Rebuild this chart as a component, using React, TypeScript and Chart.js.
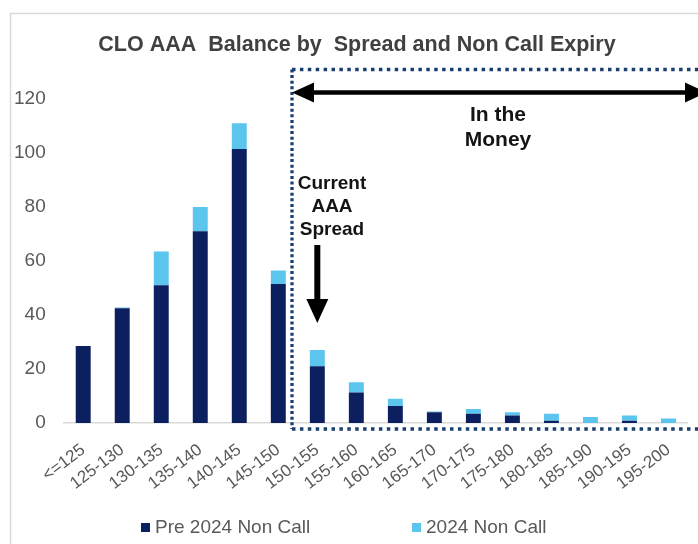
import React, { useEffect, useRef } from "react";
import { Chart, registerables } from "chart.js";

Chart.register(...registerables);

const categories = [
  "<=125", "125-130", "130-135", "135-140", "140-145", "145-150", "150-155", "155-160",
  "160-165", "165-170", "170-175", "175-180", "180-185", "185-190", "190-195", "195-200",
];
const pre2024NonCall = [28.5, 42.5, 51, 71, 101.5, 51.5, 21, 11.3, 6.3, 4, 3.4, 2.8, 0.8, 0, 0.8, 0];
const nonCall2024 = [0, 0.3, 12.5, 9, 9.5, 5, 6, 3.8, 2.7, 0.3, 1.8, 1.2, 2.6, 2.2, 2.0, 1.7];
const seriesNames = ["Pre 2024 Non Call", "2024 Non Call"];
const seriesColors = ["#0c1f5e", "#5bc5ee"];
const yTicks = { min: 0, max: 120, step: 20 };
const titleText = "CLO AAA  Balance by  Spread and Non Call Expiry";
const moneyLines = ["In the", "Money"];
const spreadLines = ["Current", "AAA", "Spread"];

const FONT = "'Liberation Sans', Arial, sans-serif";

const overlayPlugin = {
  id: "overlay",
  afterDraw(chart: any) {
    const ctx = chart.ctx as CanvasRenderingContext2D;
    const xs = chart.scales.x;
    ctx.save();

    // outer frame
    ctx.strokeStyle = "#d9d9d9";
    ctx.lineWidth = 1.5;
    ctx.beginPath();
    ctx.moveTo(10.5, 544);
    ctx.lineTo(10.5, 13.5);
    ctx.lineTo(698, 13.5);
    ctx.stroke();

    // title
    ctx.fillStyle = "#404040";
    ctx.textAlign = "center";
    ctx.textBaseline = "middle";
    ctx.font = `bold 21.5px ${FONT}`;
    ctx.fillText(titleText, 357, 45);

    // dotted "in the money" box
    const boxLeft = 292;
    const boxTop = 69.5;
    const boxBottom = 429;
    const boxRight = 704;
    ctx.strokeStyle = "#1b3f73";
    ctx.lineWidth = 3.3;
    ctx.setLineDash([3.5, 4.4]);
    ctx.beginPath();
    ctx.moveTo(boxLeft, boxTop);
    ctx.lineTo(boxRight, boxTop);
    ctx.moveTo(boxLeft, boxBottom);
    ctx.lineTo(boxRight, boxBottom);
    ctx.stroke();
    ctx.setLineDash([3, 2.6]);
    ctx.beginPath();
    ctx.moveTo(boxLeft, boxTop);
    ctx.lineTo(boxLeft, boxBottom);
    ctx.stroke();
    ctx.setLineDash([]);

    // double arrow
    ctx.fillStyle = "#000";
    ctx.strokeStyle = "#000";
    const ay = 92.5;
    const lTip = 292;
    const rTip = 707;
    const headL = 22;
    const headH = 10;
    ctx.lineWidth = 4.5;
    ctx.beginPath();
    ctx.moveTo(lTip + headL - 2, ay);
    ctx.lineTo(rTip - headL + 2, ay);
    ctx.stroke();
    ctx.beginPath();
    ctx.moveTo(lTip, ay);
    ctx.lineTo(lTip + headL, ay - headH);
    ctx.lineTo(lTip + headL, ay + headH);
    ctx.closePath();
    ctx.fill();
    ctx.beginPath();
    ctx.moveTo(rTip, ay);
    ctx.lineTo(rTip - headL, ay - headH);
    ctx.lineTo(rTip - headL, ay + headH);
    ctx.closePath();
    ctx.fill();

    // down arrow at current spread bucket
    const dx = xs.getPixelForValue(6);
    ctx.lineWidth = 6;
    ctx.beginPath();
    ctx.moveTo(dx, 245);
    ctx.lineTo(dx, 302);
    ctx.stroke();
    ctx.beginPath();
    ctx.moveTo(dx - 11, 299);
    ctx.lineTo(dx + 11, 299);
    ctx.lineTo(dx, 323);
    ctx.closePath();
    ctx.fill();

    // texts
    ctx.fillStyle = "#141414";
    ctx.textAlign = "center";
    ctx.textBaseline = "middle";
    ctx.font = `bold 21px ${FONT}`;
    moneyLines.forEach((t, i) => ctx.fillText(t, 498, 115 + i * 25));
    ctx.font = `bold 19px ${FONT}`;
    spreadLines.forEach((t, i) => ctx.fillText(t, 332, 184 + i * 23));

    // legend
    ctx.font = `19px ${FONT}`;
    ctx.textAlign = "left";
    const legendX = [141, 412];
    seriesNames.forEach((name, i) => {
      ctx.fillStyle = seriesColors[i];
      ctx.fillRect(legendX[i], 523, 9, 9);
      ctx.fillStyle = "#595959";
      ctx.fillText(name, legendX[i] + 14, 528);
    });

    ctx.restore();
  },
};

export default function App() {
  const ref = useRef<HTMLCanvasElement | null>(null);

  useEffect(() => {
    document.body.style.margin = "0";
    if (!ref.current) return;
    const chart = new Chart(ref.current, {
      type: "bar",
      data: {
        labels: categories,
        datasets: [
          {
            label: seriesNames[0],
            data: pre2024NonCall,
            backgroundColor: seriesColors[0],
            barPercentage: 0.383,
            categoryPercentage: 1,
          },
          {
            label: seriesNames[1],
            data: nonCall2024,
            backgroundColor: seriesColors[1],
            barPercentage: 0.383,
            categoryPercentage: 1,
          },
        ],
      },
      options: {
        responsive: false,
        animation: false,
        layout: { padding: { left: 13, right: 8, top: 99, bottom: 0 } },
        plugins: {
          legend: { display: false },
          tooltip: { enabled: false },
          title: { display: false },
        },
        scales: {
          x: {
            stacked: true,
            grid: { display: false, drawTicks: false },
            border: { display: true, color: "#d9d9d9", width: 1.5 },
            ticks: {
              color: "#595959",
              font: { family: FONT, size: 17 },
              minRotation: 37,
              maxRotation: 37,
              autoSkip: false,
              padding: 17,
            },
            afterFit: (s: any) => {
              s.height = 121;
            },
          },
          y: {
            stacked: true,
            min: yTicks.min,
            max: yTicks.max,
            grid: { display: false, drawTicks: false },
            border: { display: false },
            ticks: {
              stepSize: yTicks.step,
              color: "#595959",
              font: { family: FONT, size: 19 },
              padding: 18,
            },
            afterFit: (s: any) => {
              s.width = 50.7;
            },
          },
        },
      },
      plugins: [overlayPlugin],
    });
    return () => chart.destroy();
  }, []);

  return (
    <div style={{ width: 698, height: 544, background: "#fff" }}>
      <canvas ref={ref} width={698} height={544} style={{ display: "block" }} />
    </div>
  );
}
